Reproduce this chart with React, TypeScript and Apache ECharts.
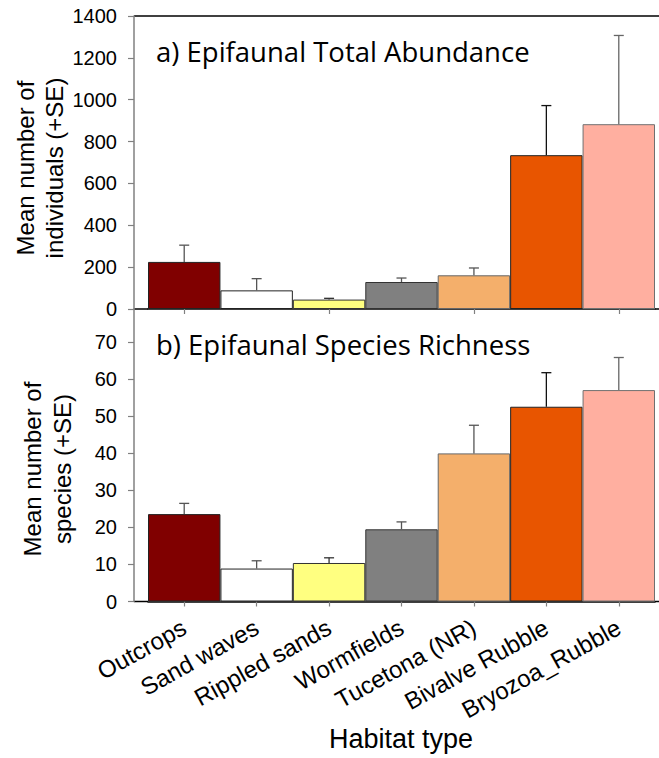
import React, { useEffect, useRef } from "react";
import * as echarts from "echarts";

const categories = [
  "Outcrops",
  "Sand waves",
  "Rippled sands",
  "Wormfields",
  "Tucetona (NR)",
  "Bivalve Rubble",
  "Bryozoa_Rubble",
];
const abundanceMean = [225, 89, 45, 129, 161, 735, 883];
const abundanceSE = [80, 56, 6, 19, 35, 237, 424];
const richnessMean = [23.6, 8.9, 10.4, 19.5, 40.0, 52.6, 57.1];
const richnessSE = [2.9, 2.1, 1.4, 2.0, 7.6, 9.2, 8.8];
const barColors = ["#800000", "#FFFFFF", "#FFFF80", "#808080", "#F4AF6B", "#E85500", "#FFAFA0"];
const barBorders = ["#222222", "#222222", "#333333", "#333333", "#666666", "#222222", "#707070"];
const errColors = ["#555555", "#555555", "#333333", "#555555", "#555555", "#111111", "#666666"];

const titleA = "a) Epifaunal Total Abundance";
const titleB = "b) Epifaunal Species Richness";
const yNameA = "Mean number of\nindividuals (+SE)";
const yNameB = "Mean number of\nspecies (+SE)";
const xName = "Habitat type";

const ARIAL = "'Liberation Sans', Arial, sans-serif";
const TITLEFONT = "'Open Sans', 'Noto Sans', sans-serif";

function errorSeries(means: number[], ses: number[], idx: number) {
  return {
    type: "custom",
    xAxisIndex: idx,
    yAxisIndex: idx,
    z: 5,
    encode: { x: 0, y: 1 },
    data: means.map((v, i) => [i, v, ses[i]]),
    renderItem: (params: any, api: any) => {
      const x = api.value(0);
      const v = api.value(1);
      const se = api.value(2);
      const base = api.coord([x, v]);
      const top = api.coord([x, v + se]);
      const stroke = errColors[params.dataIndex];
      const style = { stroke, lineWidth: 1.3 };
      return {
        type: "group",
        children: [
          { type: "line", shape: { x1: base[0], y1: base[1], x2: top[0], y2: top[1] }, style },
          { type: "line", shape: { x1: top[0] - 5, y1: top[1], x2: top[0] + 5, y2: top[1] }, style },
        ],
      };
    },
  };
}

function barSeries(means: number[], idx: number) {
  return {
    type: "bar",
    xAxisIndex: idx,
    yAxisIndex: idx,
    barWidth: "100%",
    z: 2,
    data: means.map((v, i) => ({
      value: v,
      itemStyle: { color: barColors[i], borderColor: barBorders[i], borderWidth: 1 },
    })),
  };
}

export default function App() {
  const ref = useRef<HTMLDivElement>(null);
  useEffect(() => {
    if (!ref.current) return;
    const chart = echarts.init(ref.current, undefined, { renderer: "svg" });
    const yAxisCommon = {
      type: "value",
      offset: 14,
      axisLine: { show: true, lineStyle: { color: "#808080", width: 1.5 } },
      axisTick: { show: true, length: 6, lineStyle: { color: "#808080", width: 1.2 } },
      axisLabel: { fontSize: 20, color: "#000", margin: 17, fontFamily: ARIAL, formatter: (v: number) => String(v) },
      splitLine: { show: false },
    };
    const xAxisCommon = {
      type: "category",
      data: categories,
      boundaryGap: true,
      axisLine: { show: true, lineStyle: { color: "#000", width: 1.5 } },
      axisTick: { show: true, alignWithLabel: true, length: 5, lineStyle: { color: "#808080", width: 1.2 } },
      splitLine: { show: false },
    };
    const ext = (y: number) => [
      { type: "line", shape: { x1: 134, y1: y, x2: 148, y2: y }, style: { stroke: "#000", lineWidth: 1.5 } },
      { type: "line", shape: { x1: 655, y1: y, x2: 659, y2: y }, style: { stroke: "#000", lineWidth: 1.5 } },
    ];
    chart.setOption({
      animation: false,
      backgroundColor: "#fff",
      grid: [
        { left: 148, right: 4, top: 16, height: 293 },
        { left: 148, right: 4, top: 309, height: 292.5 },
      ],
      xAxis: [
        { ...xAxisCommon, gridIndex: 0, axisLabel: { show: false } },
        {
          ...xAxisCommon,
          gridIndex: 1,
          axisLabel: { show: true, interval: 0, rotate: 29, fontSize: 24, color: "#000", margin: 24, fontFamily: ARIAL },
        },
      ],
      yAxis: [
        { ...yAxisCommon, gridIndex: 0, min: 0, max: 1400, interval: 200 },
        { ...yAxisCommon, gridIndex: 1, min: 0, max: 79, interval: 10, axisLabel: { ...yAxisCommon.axisLabel, showMaxLabel: false } },
      ],
      series: [
        barSeries(abundanceMean, 0),
        errorSeries(abundanceMean, abundanceSE, 0),
        barSeries(richnessMean, 1),
        errorSeries(richnessMean, richnessSE, 1),
      ],
      graphic: [
        { type: "line", shape: { x1: 134, y1: 16, x2: 659, y2: 16 }, style: { stroke: "#000", lineWidth: 1.5 } },
        ...ext(309),
        ...ext(601.5),
        {
          type: "text", x: 156, y: 51,
          style: { text: titleA, fontSize: 27.5, fontFamily: TITLEFONT, fill: "#000", align: "left", verticalAlign: "middle", textAlign: "left", textVerticalAlign: "middle" },
        },
        {
          type: "text", x: 156, y: 344,
          style: { text: titleB, fontSize: 27.5, fontFamily: TITLEFONT, fill: "#000", align: "left", verticalAlign: "middle", textAlign: "left", textVerticalAlign: "middle" },
        },
        {
          type: "text", x: 40, y: 168, rotation: Math.PI / 2,
          style: { text: yNameA, fontSize: 24, lineHeight: 29, fontFamily: ARIAL, fill: "#000", align: "center", verticalAlign: "middle", textAlign: "center", textVerticalAlign: "middle" },
        },
        {
          type: "text", x: 47, y: 469, rotation: Math.PI / 2,
          style: { text: yNameB, fontSize: 24, lineHeight: 30, fontFamily: ARIAL, fill: "#000", align: "center", verticalAlign: "middle", textAlign: "center", textVerticalAlign: "middle" },
        },
        {
          type: "text", x: 401, y: 739,
          style: { text: xName, fontSize: 27, fontFamily: ARIAL, fill: "#000", align: "center", verticalAlign: "middle", textAlign: "center", textVerticalAlign: "middle" },
        },
      ],
    });
    return () => chart.dispose();
  }, []);
  return (
    <div
      ref={ref}
      style={{ position: "absolute", left: 0, top: 0, width: 659, height: 758 }}
    />
  );
}
